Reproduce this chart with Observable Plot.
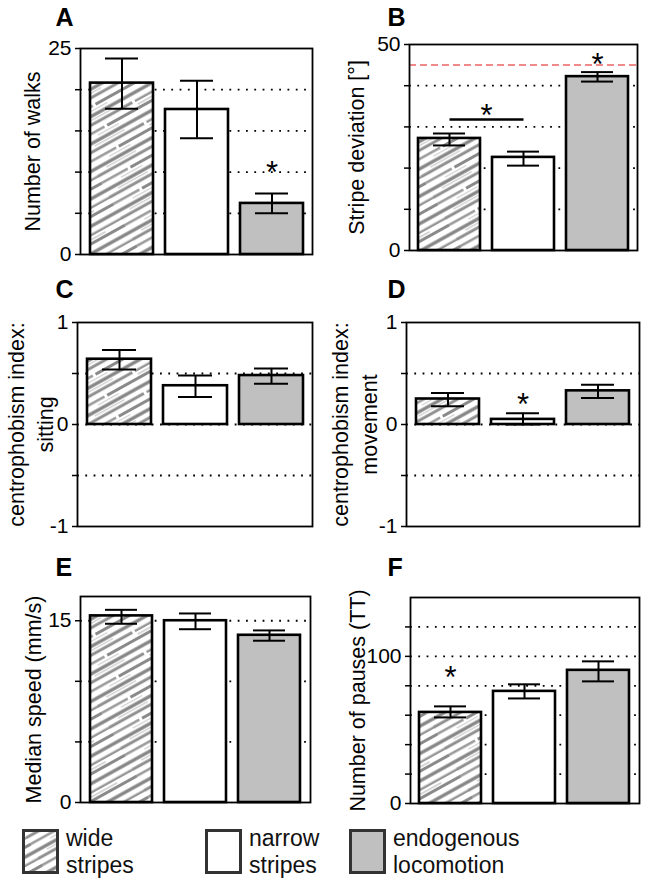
<!DOCTYPE html>
<html>
<head>
<meta charset="utf-8">
<script src="https://cdn.jsdelivr.net/npm/d3@7"></script>
<script src="https://cdn.jsdelivr.net/npm/@observablehq/plot@0.6"></script>
<style>
  body { margin: 0; background: #fff; font-family: "Liberation Sans", Arial, Helvetica, sans-serif; }
  #chart { position: relative; width: 648px; height: 887px; background: #fff; overflow: hidden; }
  .panel { position: absolute; }
  .legend-item { position: absolute; top: 829px; }
  .legend-item svg { position: absolute; left: 0; top: 0; }
  .legend-item .txt { position: absolute; top: -4px; font-size: 23px; line-height: 27px; color: #111; white-space: nowrap; }
</style>
</head>
<body>
<svg width="0" height="0" style="position:absolute">
  <defs>
    <pattern id="hatch" patternUnits="userSpaceOnUse" width="120" height="24" patternTransform="rotate(-29)">
      <rect x="0" y="0" width="120" height="24" fill="#fff"/>
      <rect x="0" y="0.4" width="120" height="3.3" fill="#858585"/>
      <rect x="0" y="8.3" width="66" height="2.9" fill="#8e8e8e"/>
      <rect x="69" y="8.6" width="51" height="2.4" fill="#969696"/>
      <rect x="0" y="16.2" width="30" height="2.4" fill="#959595"/>
      <rect x="33" y="16" width="87" height="3" fill="#8a8a8a"/>
      <rect x="12" y="5.2" width="34" height="1.1" fill="#c4c4c4"/>
      <rect x="70" y="13.3" width="30" height="1.2" fill="#bdbdbd"/>
      <rect x="20" y="21.2" width="24" height="1" fill="#c8c8c8"/>
    </pattern>
  </defs>
</svg>
<div id="chart"></div>
<script>
// ---------- data ----------
const categories = ["wide stripes", "narrow stripes", "endogenous locomotion"];

const walksMean = [20.8, 17.6, 6.2];
const walksLo   = [17.7, 14.1, 5.0];
const walksHi   = [23.8, 21.1, 7.4];

const deviationMean = [27.2, 22.6, 42.2];
const deviationLo   = [25.5, 20.6, 41.0];
const deviationHi   = [28.4, 24.0, 43.3];
const deviationChance = [45];

const sittingMean = [0.64, 0.38, 0.48];
const sittingLo   = [0.54, 0.27, 0.40];
const sittingHi   = [0.73, 0.48, 0.55];

const movementMean = [0.25, 0.05, 0.33];
const movementLo   = [0.18, 0.00, 0.26];
const movementHi   = [0.31, 0.11, 0.39];

const speedMean = [15.4, 15.0, 13.8];
const speedLo   = [14.75, 14.3, 13.35];
const speedHi   = [15.9, 15.6, 14.2];

const pausesMean = [61.9, 76.2, 90.5];
const pausesLo   = [58.5, 71.4, 83.0];
const pausesHi   = [66.0, 81.0, 96.6];

const walksStars     = [{cat: "endogenous locomotion", y: 10.8}];
const deviationStars = [{cat: "endogenous locomotion", y: 46.8}];
const deviationBracketStar = [{x1: "wide stripes", x2: "narrow stripes", y: 31.8, starY: 34.5}];
const movementStars  = [{cat: "narrow stripes", y: 0.265}];
const pausesStars    = [{cat: "wide stripes", y: 90.5}];

const legendLabels = ["wide\nstripes", "narrow\nstripes", "endogenous\nlocomotion"];

// ---------- styles ----------
const fillOf = {"wide stripes": "url(#hatch)", "narrow stripes": "#ffffff", "endogenous locomotion": "#c0c0c0"};
const FONT = "'Liberation Sans', Arial, Helvetica, sans-serif";

function rows(mean, lo, hi) {
  return categories.map((c, i) => ({cat: c, mean: mean[i], lo: lo[i], hi: hi[i]}));
}

function makePanel(cfg) {
  const data = rows(cfg.mean, cfg.lo, cfg.hi);
  const marks = [
    Plot.ruleY(cfg.grid, {stroke: "#000", strokeWidth: 1.8, strokeDasharray: "1.8,6.5"})
  ];
  if (cfg.refLine) marks.push(Plot.ruleY(cfg.refLine, {stroke: "#f08a8a", strokeWidth: 2, strokeDasharray: "7,4"}));
  marks.push(
    Plot.barY(data, {x: "cat", y1: 0, y2: "mean", fill: d => fillOf[d.cat], stroke: "#000", strokeWidth: 2.6}),
    Plot.ruleX(data, {x: "cat", y1: "lo", y2: "hi", stroke: "#000", strokeWidth: 2}),
    Plot.tickY(data, {x: "cat", y: "lo", insetLeft: 15, insetRight: 15, stroke: "#000", strokeWidth: 2}),
    Plot.tickY(data, {x: "cat", y: "hi", insetLeft: 15, insetRight: 15, stroke: "#000", strokeWidth: 2}),
    Plot.frame({stroke: "#000", strokeWidth: 1.8}),
    Plot.axisY(cfg.ticks, {tickSize: 5, tickPadding: 4, fontSize: 21, strokeWidth: 1.5, label: null,
      tickFormat: d => cfg.tickLabels.includes(d) ? String(d).replace("\u2212", "-") : ""}),
    Plot.text([cfg.label], {frameAnchor: "left", textAnchor: "middle", lineAnchor: "middle", rotate: -90, dx: cfg.labelDx,
      fontSize: 21.5, lineHeight: 1.35, fill: "#000"}),
    Plot.text([cfg.letter], {frameAnchor: "top-left", dx: cfg.letterDx, dy: cfg.letterDy, fontWeight: "bold", fontSize: 25,
      textAnchor: "start", lineAnchor: "top", fill: "#000"})
  );
  if (cfg.stars) marks.push(Plot.text(cfg.stars, {x: "cat", y: "y", text: () => "*", fontSize: 31, dy: 7.5, fill: "#000"}));
  if (cfg.bracket) {
    marks.push(
      Plot.link(cfg.bracket, {x1: "x1", x2: "x2", y1: "y", y2: "y", stroke: "#000", strokeWidth: 2.6}),
      Plot.text(cfg.bracket, {x: d => d.x1, y: "starY", text: () => "*", fontSize: 31, dy: 7.5, dx: 37, fill: "#000"})
    );
  }
  const svg = Plot.plot({
    width: 324, height: cfg.height,
    marginLeft: cfg.m[0], marginRight: cfg.m[1], marginTop: cfg.m[2], marginBottom: cfg.m[3],
    x: {domain: categories, paddingInner: 0.16, paddingOuter: 0.12, axis: null},
    y: {domain: cfg.domain, axis: null},
    color: {type: "identity"},
    style: {fontFamily: FONT, background: "transparent", overflow: "visible", color: "#000"},
    marks
  });
  const div = document.createElement("div");
  div.className = "panel";
  div.style.left = cfg.left + "px";
  div.style.top = cfg.top + "px";
  div.appendChild(svg);
  document.getElementById("chart").appendChild(div);
}

makePanel({letter: "A", left: 0, top: 0, height: 262, m: [80, 12, 48, 8], domain: [0, 25],
  mean: walksMean, lo: walksLo, hi: walksHi, grid: [5, 10, 15, 20], ticks: [0, 5, 10, 15, 20, 25], tickLabels: [0, 25],
  label: "Number of walks", labelDx: -50, letterDx: -25, letterDy: -40, stars: walksStars});

makePanel({letter: "B", left: 324, top: 0, height: 262, m: [85, 11, 44, 12], domain: [0, 50],
  mean: deviationMean, lo: deviationLo, hi: deviationHi, grid: [10, 20, 30, 40], ticks: [0, 10, 20, 30, 40, 50], tickLabels: [0, 50],
  refLine: deviationChance, label: "Stripe deviation [°]", labelDx: -55, letterDx: -22, letterDy: -36,
  stars: deviationStars, bracket: deviationBracketStar});

makePanel({letter: "C", left: 0, top: 270, height: 262, m: [77, 12, 52, 6], domain: [-1, 1],
  mean: sittingMean, lo: sittingLo, hi: sittingHi, grid: [-0.5, 0, 0.5], ticks: [-1, -0.5, 0, 0.5, 1], tickLabels: [-1, 0, 1],
  label: "centrophobism index:\nsitting", labelDx: -48, letterDx: -22, letterDy: -42});

makePanel({letter: "D", left: 324, top: 270, height: 262, m: [82, 9, 52, 6], domain: [-1, 1],
  mean: movementMean, lo: movementLo, hi: movementHi, grid: [-0.5, 0, 0.5], ticks: [-1, -0.5, 0, 0.5, 1], tickLabels: [-1, 0, 1],
  label: "centrophobism index:\nmovement", labelDx: -53, letterDx: -19, letterDy: -42, stars: movementStars});

makePanel({letter: "E", left: 0, top: 530, height: 280, m: [80, 14, 66, 8], domain: [0, 17],
  mean: speedMean, lo: speedLo, hi: speedHi, grid: [5, 10, 15], ticks: [0, 5, 10, 15], tickLabels: [0, 15],
  label: "Median speed (mm/s)", labelDx: -49, letterDx: -25, letterDy: -38});

makePanel({letter: "F", left: 324, top: 530, height: 280, m: [86, 9, 67, 7], domain: [0, 140],
  mean: pausesMean, lo: pausesLo, hi: pausesHi, grid: [20, 40, 60, 80, 100, 120], ticks: [0, 20, 40, 60, 80, 100, 120], tickLabels: [0, 100],
  label: "Number of pauses (TT)", labelDx: -55, letterDx: -23, letterDy: -39, stars: pausesStars});

// ---------- legend ----------
const legendX = [22, 205, 349];
categories.forEach((c, i) => {
  const item = document.createElement("div");
  item.className = "legend-item";
  item.style.left = legendX[i] + "px";
  const ns = "http://www.w3.org/2000/svg";
  const s = document.createElementNS(ns, "svg");
  s.setAttribute("width", 40); s.setAttribute("height", 48);
  const r = document.createElementNS(ns, "rect");
  r.setAttribute("x", 1.5); r.setAttribute("y", 1.5); r.setAttribute("width", 34); r.setAttribute("height", 42);
  r.setAttribute("fill", fillOf[c]); r.setAttribute("stroke", "#333"); r.setAttribute("stroke-width", 3);
  s.appendChild(r);
  item.appendChild(s);
  const t = document.createElement("div");
  t.className = "txt";
  t.style.left = "44px";
  t.innerHTML = legendLabels[i].split("\n").join("<br>");
  item.appendChild(t);
  document.getElementById("chart").appendChild(item);
});
</script>
</body>
</html>
